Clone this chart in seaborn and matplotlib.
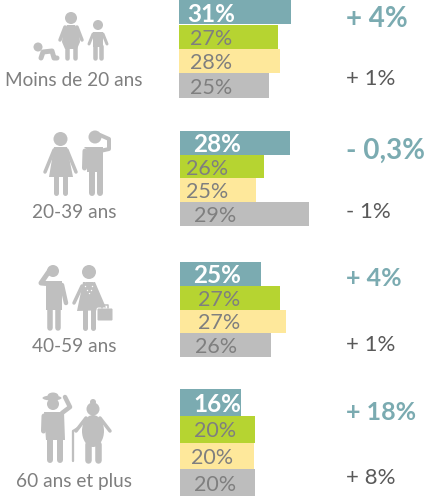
import matplotlib
matplotlib.use('Agg')
import matplotlib.pyplot as plt
from matplotlib.patches import Circle, Ellipse, FancyBboxPatch, Polygon
import pandas as pd
import seaborn as sns

# Chart data
groups = ['Moins de 20 ans', '20-39 ans', '40-59 ans', '60 ans et plus']
series = ['s1', 's2', 's3', 's4']
# bar lengths as drawn in the picture (they don't quite follow the labels)
lengths_g1 = [112, 99, 101, 90]
lengths_g2 = [110, 84, 76, 129]
lengths_g3 = [81, 100, 106, 91]
lengths_g4 = [61, 75, 74, 75]
labels_g1 = ['31%', '27%', '28%', '25%']
labels_g2 = ['28%', '26%', '25%', '29%']
labels_g3 = ['25%', '27%', '27%', '26%']
labels_g4 = ['16%', '20%', '20%', '20%']
delta_top = ['+ 4%', '- 0,3%', '+ 4%', '+ 18%']
delta_bottom = ['+ 1%', '- 1%', '+ 1%', '+ 8%']

# Layout in pixels
W, H = 427, 496
bar_left = [179, 180, 180, 180]
bar_top = [0, 131, 262, 389]
bar_bottom = [98, 226, 357, 496]
label_x = [[211, 211, 211, 211], [217, 207, 207, 215], [217, 219, 219, 216], [217, 215, 212, 215]]
group_x = [74, 74, 74, 74]
group_y = [81, 213, 346, 481]
top_y = [19, 151, 278, 412]
bottom_y = [79, 212, 345, 478]
top_size = [20, 20, 18, 18]

colors = ['#7BABB1', '#B6D431', '#FEE89B', '#BDBDBD']
grey = '#BFBFBF'
text_grey = '#7F7F7F'
dark = '#595959'
teal = '#7BABB1'

sns.set_theme(style='white')
plt.rcParams['font.family'] = ['Lato', 'DejaVu Sans']

fig = plt.figure(figsize=(W / 100, H / 100), dpi=100)
fig.patch.set_facecolor('white')

all_lengths = [lengths_g1, lengths_g2, lengths_g3, lengths_g4]
all_labels = [labels_g1, labels_g2, labels_g3, labels_g4]

# Bars, one axes per age group
for i in range(4):
    df = pd.DataFrame({'serie': series, 'length': all_lengths[i]})
    ax = fig.add_axes([bar_left[i] / W, 1 - bar_bottom[i] / H, (W - bar_left[i]) / W,
                       (bar_bottom[i] - bar_top[i]) / H])
    sns.barplot(data=df, y='serie', x='length', hue='serie', palette=colors, order=series,
                width=1, legend=False, ax=ax, saturation=1, linewidth=0)
    ax.set_xlim(0, W - bar_left[i])
    ax.set_ylim(3.5, -0.5)
    ax.axis('off')
    for j, lab in enumerate(all_labels[i]):
        if j == 0:
            ax.text(label_x[i][j] - bar_left[i], j + 0.08, lab, color='white', fontsize=17.5,
                    fontweight='bold', ha='center', va='center')
        else:
            ax.text(label_x[i][j] - bar_left[i], j + 0.08, lab, color=text_grey, fontsize=15.5,
                    ha='center', va='center')

# Overlay in pixel coordinates for the pictograms and side text
ov = fig.add_axes([0, 0, 1, 1])
ov.set_xlim(0, W)
ov.set_ylim(H, 0)
ov.axis('off')
ov.patch.set_alpha(0)


def limb(pts, lw):
    ov.plot([p[0] for p in pts], [p[1] for p in pts], color=grey, lw=lw * 0.72,
            solid_capstyle='round', solid_joinstyle='round')


def head(x, y, r):
    ov.add_patch(Circle((x, y), r, color=grey, lw=0))


def body(pts):
    ov.add_patch(Polygon(pts, closed=True, color=grey, lw=0, joinstyle='round'))


# Baby, woman and child
head(38, 47, 4.5)
limb([(41, 58), (43, 52), (52, 51), (54, 58), (57, 58)], 5)
head(71, 18, 6)
body([(67, 25), (75, 25), (79, 32), (80, 42), (77, 49), (65, 49), (62, 42), (63, 32)])
limb([(65, 27), (60, 40)], 3.5)
limb([(77, 27), (82, 40)], 3.5)
limb([(67, 47), (67, 58)], 4.5)
limb([(75, 47), (75, 58)], 4.5)
head(98, 25, 5)
body([(93, 32), (103, 32), (103, 47), (93, 47)])
limb([(93, 34), (89, 44)], 3)
limb([(103, 34), (107, 44)], 3)
limb([(95, 46), (95, 58)], 4.5)
limb([(101, 46), (101, 58)], 4.5)

# Woman and man
head(60.5, 139, 7)
body([(54, 147), (67, 147), (73, 177), (49, 177)])
limb([(54, 150), (45, 172)], 3.5)
limb([(67, 150), (76, 172)], 3.5)
limb([(56, 177), (56, 193)], 5)
limb([(65, 177), (65, 193)], 5)
head(95, 137, 6.5)
body([(84, 147), (103, 147), (103, 172), (87, 172), (87, 150)])
limb([(85, 151), (84.5, 168)], 5)
limb([(100, 151), (109, 149), (109, 139), (100, 135)], 4)
limb([(92, 170), (92, 193)], 6)
limb([(100, 170), (100, 193)], 6)

# Man with glasses, woman with bag
head(53, 271, 6)
limb([(52, 284), (41, 283), (50, 270)], 5)
body([(46, 281), (62, 281), (62, 310), (46, 310)])
limb([(62, 285), (66, 303)], 4.5)
limb([(50, 308), (50, 328)], 5.5)
limb([(58, 308), (58, 328)], 5.5)
head(89, 272, 7)
body([(83, 282), (95, 282), (107, 310), (77, 311)])
limb([(82, 286), (74, 303)], 3.5)
limb([(85, 310), (85, 328)], 5)
limb([(93, 310), (93, 328)], 5)
ov.plot([85, 85.5, 87, 89, 91, 92.5, 93], [281, 286, 290, 293, 290, 286, 281], ls='none', marker='o',
        ms=1.0, mew=0, color='white')
ov.add_patch(FancyBboxPatch((97, 308), 16, 13, boxstyle='round,pad=0,rounding_size=1.5', fc=grey,
                            ec='white', lw=0.7))
ov.plot([102, 102, 108, 108], [308, 305, 305, 308], color=grey, lw=1.1)

# Old man with hat, old woman with cane
ov.add_patch(Ellipse((52, 398), 19, 5, color=grey, lw=0))
ov.add_patch(Ellipse((53, 396), 11, 7, color=grey, lw=0))
head(53, 404, 6)
body([(44, 412), (64, 412), (65, 440), (46, 440)])
limb([(62, 413), (70, 407), (65, 397)], 4.5)
limb([(44, 416), (43.5, 431)], 5)
limb([(50, 438), (50, 460)], 6)
limb([(60, 438), (60, 460)], 6)
limb([(73, 461), (73, 431), (78, 428)], 2.3)
head(93, 402, 3)
head(93, 409, 6.5)
ov.add_patch(Ellipse((93, 431), 22, 32, color=grey, lw=0))
limb([(86, 418), (76, 431)], 3.5)
limb([(100, 418), (110, 431)], 3.5)
limb([(88, 444), (88, 460)], 6.5)
limb([(98, 444), (98, 460)], 6.5)

# Group names and changes
for i in range(4):
    ov.text(group_x[i], group_y[i], groups[i], color=text_grey, fontsize=13.7, ha='center', va='center')
    ov.text(346, top_y[i], delta_top[i], color=teal, fontsize=top_size[i], fontweight='bold',
            ha='left', va='center')
    ov.text(346, bottom_y[i], delta_bottom[i], color=dark, fontsize=16, ha='left', va='center')

fig.savefig('out.png', dpi=100)
